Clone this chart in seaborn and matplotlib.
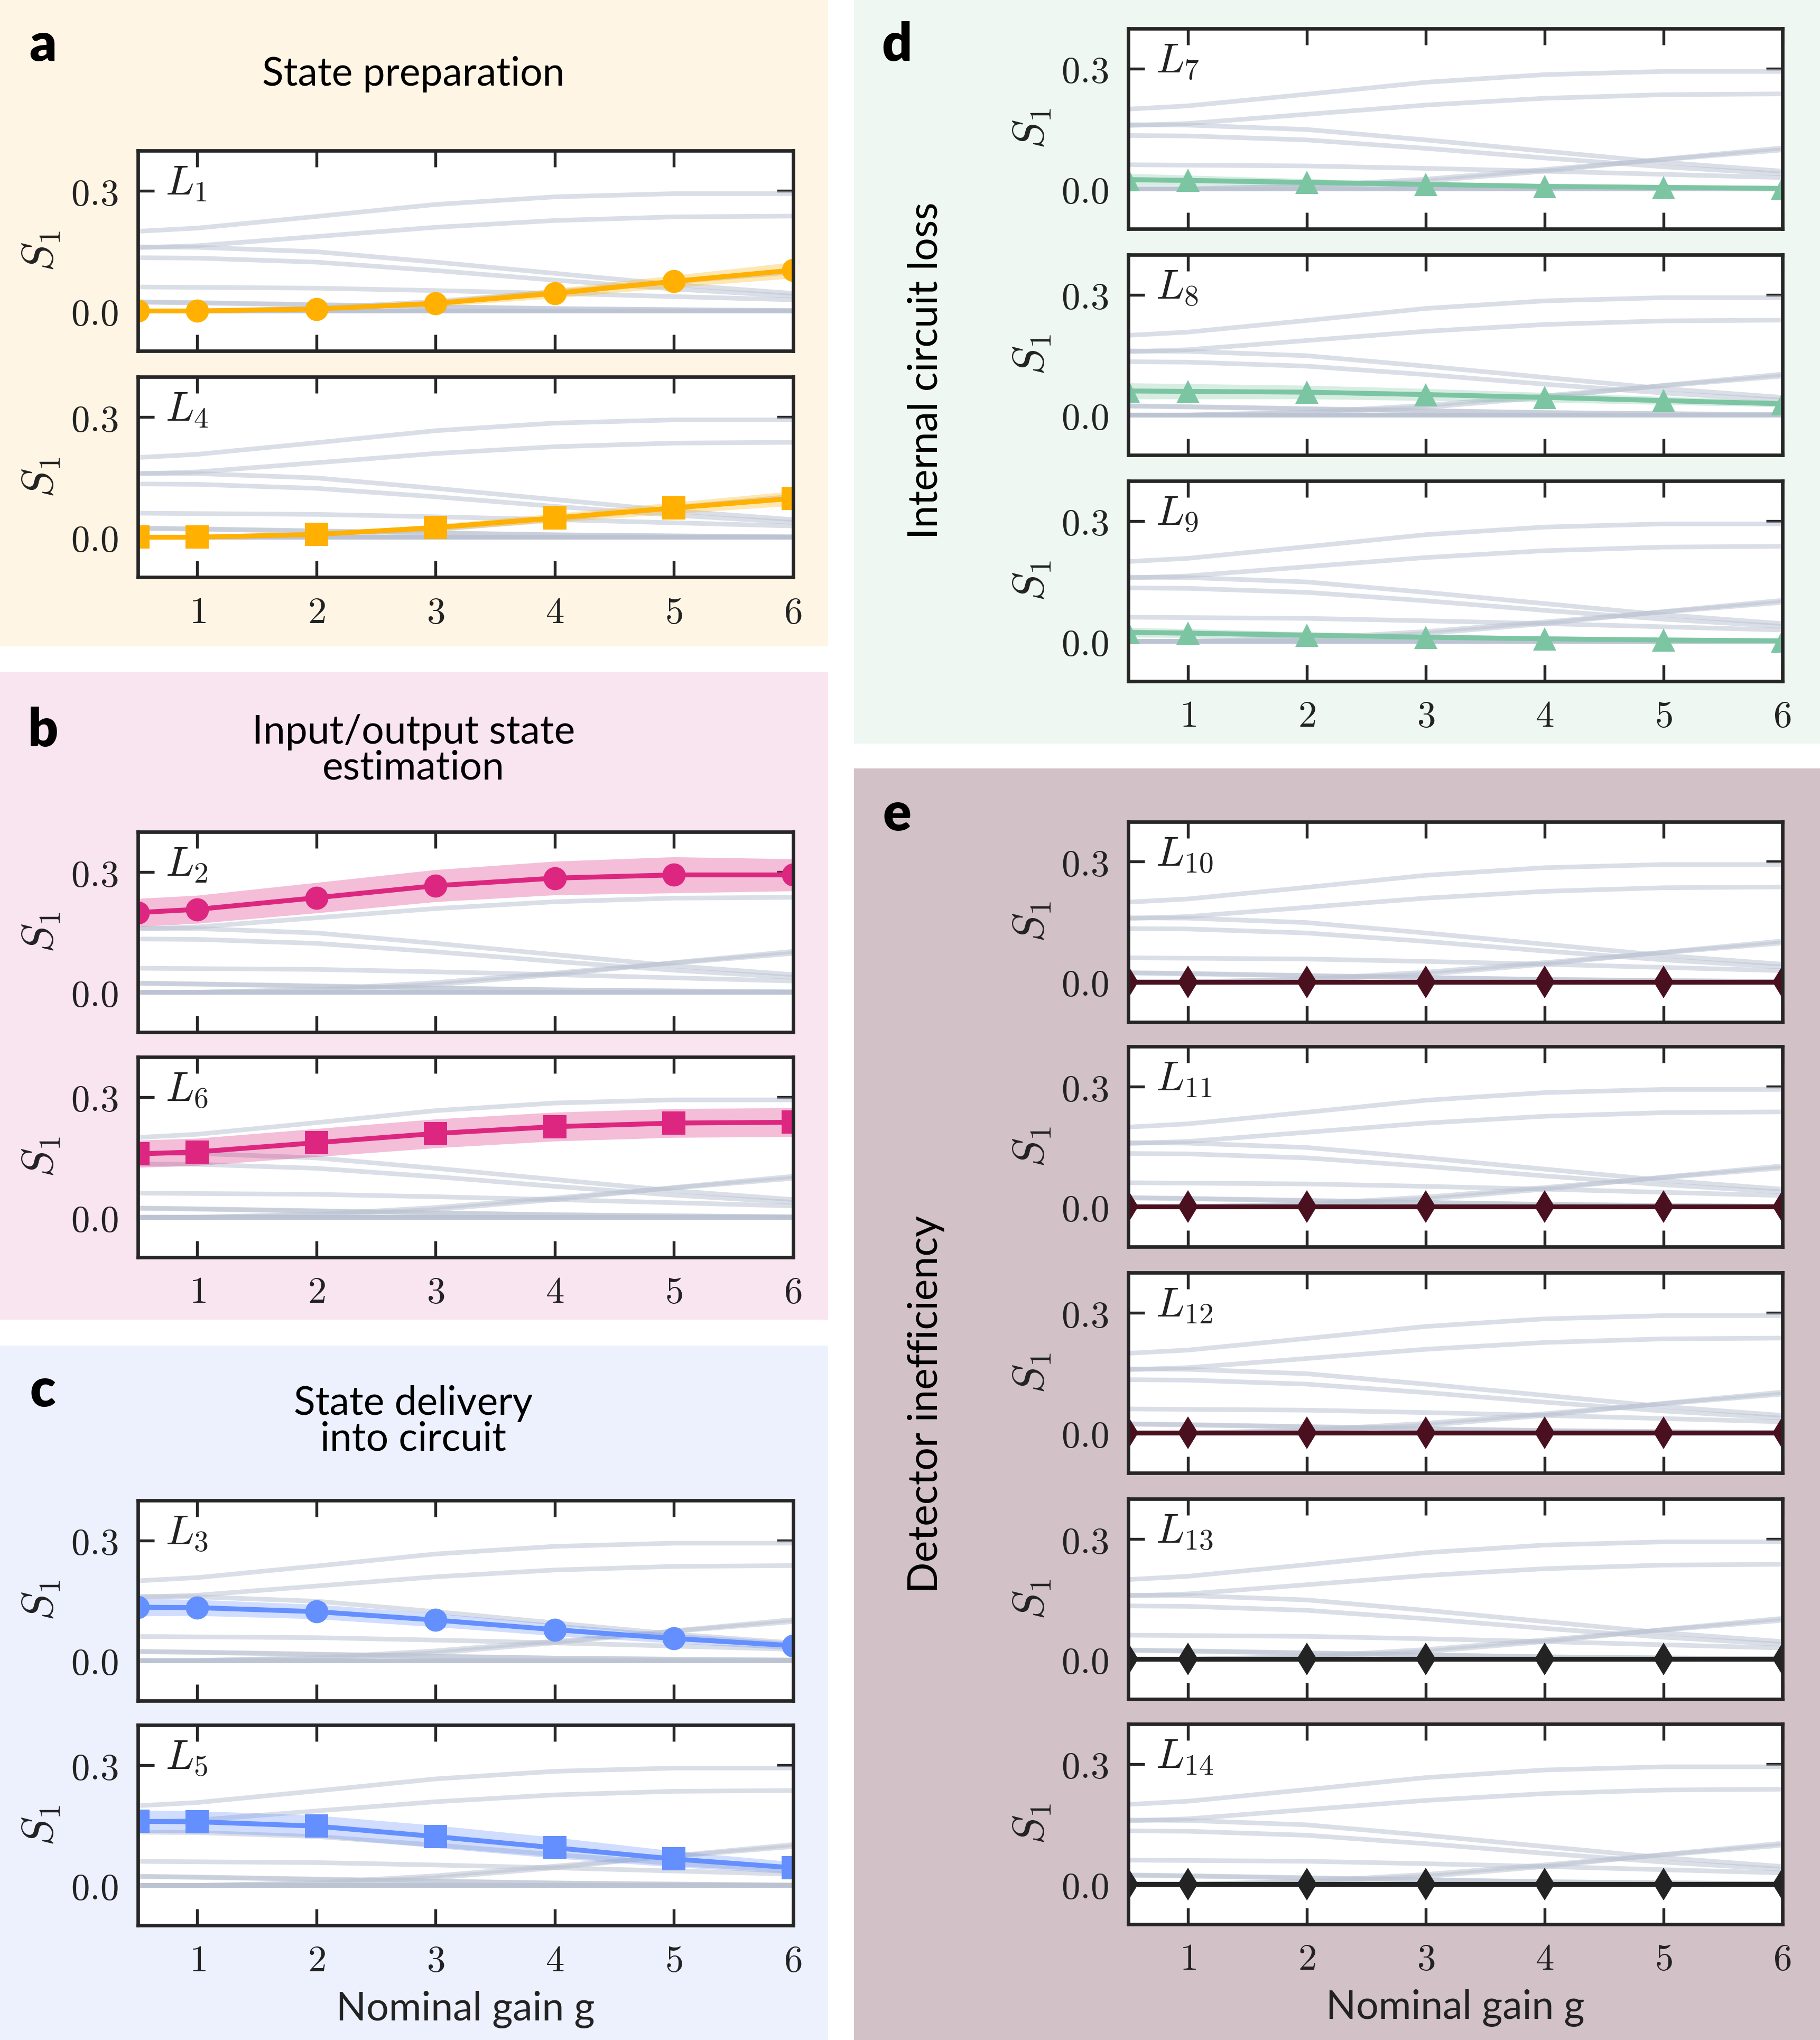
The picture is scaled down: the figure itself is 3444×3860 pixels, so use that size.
import matplotlib
matplotlib.use("Agg")
import matplotlib.pyplot as plt
from matplotlib.patches import Rectangle
import seaborn as sns

# ---------------- data ----------------
g = [0.5, 1, 2, 3, 4, 5, 6]

S1_L1 = [0.000, 0.000, 0.005, 0.019, 0.044, 0.074, 0.102]
S1_L2 = [0.199, 0.207, 0.236, 0.266, 0.285, 0.293, 0.293]
S1_L3 = [0.133, 0.132, 0.122, 0.101, 0.077, 0.055, 0.037]
S1_L4 = [0.000, 0.000, 0.007, 0.024, 0.048, 0.073, 0.097]
S1_L5 = [0.160, 0.159, 0.148, 0.122, 0.094, 0.066, 0.044]
S1_L6 = [0.158, 0.163, 0.186, 0.209, 0.226, 0.235, 0.237]
S1_L7 = [0.023, 0.021, 0.016, 0.011, 0.006, 0.0035, 0.001]
S1_L8 = [0.060, 0.059, 0.057, 0.051, 0.044, 0.036, 0.028]
S1_L9 = [0.022, 0.020, 0.015, 0.010, 0.006, 0.003, 0.001]
S1_L10 = [0.0, 0.0, 0.0, 0.0, 0.0, 0.0, 0.0]
S1_L11 = [0.0, 0.0, 0.0, 0.0, 0.0, 0.0, 0.0]
S1_L12 = [0.0, 0.0, 0.0, 0.0, 0.0, 0.0, 0.0]
S1_L13 = [0.0, 0.0, 0.0, 0.0, 0.0, 0.0, 0.0]
S1_L14 = [0.0, 0.0, 0.0, 0.0, 0.0, 0.0, 0.0]

err_L1 = [0.002, 0.002, 0.004, 0.008, 0.012, 0.015, 0.020]
err_L2 = [0.035, 0.035, 0.038, 0.040, 0.042, 0.045, 0.040]
err_L3 = [0.022, 0.020, 0.018, 0.017, 0.015, 0.012, 0.010]
err_L4 = [0.002, 0.002, 0.004, 0.008, 0.011, 0.014, 0.018]
err_L5 = [0.028, 0.027, 0.027, 0.028, 0.026, 0.020, 0.015]
err_L6 = [0.034, 0.034, 0.035, 0.036, 0.036, 0.036, 0.036]
err_L7 = [0.015, 0.013, 0.009, 0.006, 0.004, 0.003, 0.002]
err_L8 = [0.020, 0.019, 0.017, 0.015, 0.012, 0.010, 0.008]
err_L9 = [0.012, 0.011, 0.008, 0.006, 0.004, 0.003, 0.002]
err_L10 = [0.001, 0.001, 0.001, 0.001, 0.001, 0.001, 0.001]
err_L11 = [0.001, 0.001, 0.001, 0.001, 0.001, 0.001, 0.001]
err_L12 = [0.001, 0.001, 0.001, 0.001, 0.001, 0.001, 0.001]
err_L13 = [0.001, 0.001, 0.001, 0.001, 0.001, 0.001, 0.001]
err_L14 = [0.001, 0.001, 0.001, 0.001, 0.001, 0.001, 0.001]

x_ticks = [1, 2, 3, 4, 5, 6]
x_ticklabels = ["1", "2", "3", "4", "5", "6"]
y_ticks = [0.0, 0.3]
y_ticklabels = ["0.0", "0.3"]

panel_titles = {
    "a": "State preparation",
    "b": "Input/output state\nestimation",
    "c": "State delivery\ninto circuit",
    "d": "Internal circuit loss",
    "e": "Detector inefficiency",
}
xlabel_text = "Nominal gain g"
ylabel_text = r"$S_1$"

curves = {
    1: (S1_L1, err_L1), 2: (S1_L2, err_L2), 3: (S1_L3, err_L3),
    4: (S1_L4, err_L4), 5: (S1_L5, err_L5), 6: (S1_L6, err_L6),
    7: (S1_L7, err_L7), 8: (S1_L8, err_L8), 9: (S1_L9, err_L9),
    10: (S1_L10, err_L10), 11: (S1_L11, err_L11), 12: (S1_L12, err_L12),
    13: (S1_L13, err_L13), 14: (S1_L14, err_L14),
}

# ---------------- style ----------------
sns.set_theme(style="ticks")
SANS = ["Lato", "DejaVu Sans"]
plt.rcParams["font.family"] = SANS
plt.rcParams["mathtext.fontset"] = "cm"
plt.rcParams["axes.edgecolor"] = "#262626"
plt.rcParams["axes.linewidth"] = 1.6

ORANGE = "#FFB000"
PINK = "#DC267F"
BLUE = "#648FFF"
GREEN = "#7CC5A3"
MAROON = "#4A1020"
BLACK = "#232323"
GRAY = "#BCC3D2"

style = {
    1: (ORANGE, "o"), 4: (ORANGE, "s"),
    2: (PINK, "o"), 6: (PINK, "s"),
    3: (BLUE, "o"), 5: (BLUE, "s"),
    7: (GREEN, "^"), 8: (GREEN, "^"), 9: (GREEN, "^"),
    10: (MAROON, "d"), 11: (MAROON, "d"), 12: (MAROON, "d"),
    13: (BLACK, "d"), 14: (BLACK, "d"),
}

W, H = 1400.0, 3860 / 2.46
fig = plt.figure(figsize=(3444 / 300, 3860 / 300), dpi=300)
fig.patch.set_facecolor("white")


def fx(x):
    return x / W


def fy(y):
    return 1 - y / H


def bg(x0, x1, y0, y1, color):
    fig.add_artist(Rectangle((fx(x0), fy(y1)), fx(x1) - fx(x0), fy(y0) - fy(y1),
                             transform=fig.transFigure, facecolor=color,
                             edgecolor="none", zorder=-10))


bg(0, 637, 0, 497, "#FEF5E4")
bg(0, 637, 517, 1015, "#F9E5EF")
bg(0, 637, 1035, H, "#EDF1FD")
bg(657, W, 0, 572, "#EEF7F2")
bg(657, W, 591, H, "#D2C2C7")

AX_H = 154.0
layout = [
    # (L index, x_left, width, top, show x tick labels, show xlabel)
    (1, 106, 504, 116, False, False),
    (4, 106, 504, 290, True, False),
    (2, 106, 504, 640, False, False),
    (6, 106, 504, 813, True, False),
    (3, 106, 504, 1154, False, False),
    (5, 106, 504, 1327, True, True),
    (7, 868, 503, 22, False, False),
    (8, 868, 503, 196, False, False),
    (9, 868, 503, 370, True, False),
    (10, 868, 503, 632, False, False),
    (11, 868, 503, 805, False, False),
    (12, 868, 503, 979, False, False),
    (13, 868, 503, 1153, False, False),
    (14, 868, 503, 1326, True, True),
]

for idx, xl, wd, top, show_xt, show_xl in layout:
    ax = fig.add_axes([fx(xl), fy(top + AX_H), wd / W, AX_H / H])
    ax.set_facecolor("white")
    # background curves (all channels)
    for k, (vals, _) in curves.items():
        sns.lineplot(x=g, y=vals, ax=ax, color=GRAY, alpha=0.55, lw=2.1,
                     zorder=1, legend=False)
    vals, err = curves[idx]
    col, mk = style[idx]
    lo = [v - e for v, e in zip(vals, err)]
    hi = [v + e for v, e in zip(vals, err)]
    ax.fill_between(g, lo, hi, color=col, alpha=0.3, lw=0, zorder=2)
    sns.lineplot(x=g, y=vals, ax=ax, color=col, lw=2.2, marker=mk,
                 markersize=10.5, markeredgewidth=0, zorder=3, legend=False)
    ax.set_xlim(0.5, 6)
    ax.set_ylim(-0.1, 0.4)
    ax.set_xticks(x_ticks)
    ax.set_yticks(y_ticks)
    ax.set_yticklabels([f"${t}$" for t in y_ticklabels])
    if show_xt:
        ax.set_xticklabels([f"${t}$" for t in x_ticklabels])
    else:
        ax.set_xticklabels([])
    ax.tick_params(direction="in", top=True, right=True, length=7.5, width=1.3,
                   color="#262626", labelsize=17, labelcolor="#222222")
    ax.tick_params(axis="y", pad=9)
    ax.tick_params(axis="x", pad=8)
    for sp in ax.spines.values():
        sp.set_linewidth(1.6)
        sp.set_color("#262626")
        sp.set_zorder(5)
    ax.set_ylabel(ylabel_text, fontsize=20, labelpad=4, color="#222222")
    if show_xl:
        ax.set_xlabel(xlabel_text, fontsize=18, labelpad=6, color="#222222")
    else:
        ax.set_xlabel("")
    ax.text(0.042, 0.78, rf"$L_{{{idx}}}$", transform=ax.transAxes,
            ha="left", va="baseline", fontsize=19, color="#222222", zorder=6)

# panel letters
for letter, (x, y) in {"a": (33, 35), "b": (33, 562), "c": (33, 1070),
                       "d": (690, 35), "e": (690, 627)}.items():
    fig.text(fx(x), fy(y), letter, ha="center", va="center", fontsize=24,
             fontweight="heavy", color="black")

# titles
fig.text(fx(318), fy(57), panel_titles["a"], ha="center", va="center",
         fontsize=18, color="black")
fig.text(fx(318), fy(577), panel_titles["b"], ha="center", va="center",
         fontsize=18, color="black", linespacing=0.98)
fig.text(fx(318), fy(1093), panel_titles["c"], ha="center", va="center",
         fontsize=18, color="black", linespacing=0.98)
fig.text(fx(712), fy(285), panel_titles["d"], ha="center", va="center",
         fontsize=18.5, rotation=90, color="black")
fig.text(fx(712), fy(1080), panel_titles["e"], ha="center", va="center",
         fontsize=18.5, rotation=90, color="black")

fig.savefig("out.png", dpi=300)
